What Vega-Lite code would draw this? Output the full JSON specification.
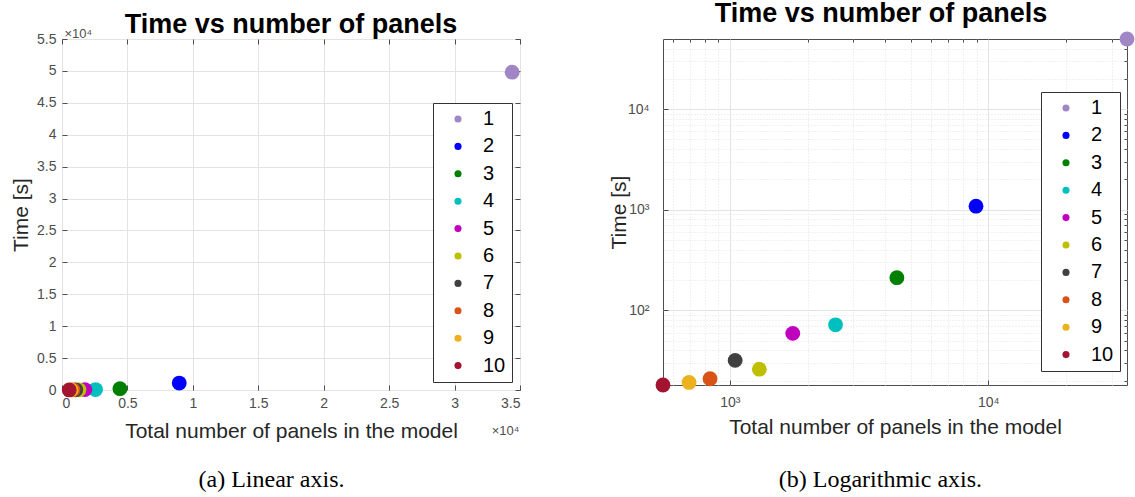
{
  "$schema": "https://vega.github.io/schema/vega-lite/v6.json",
  "background": "white",
  "padding": {"left": 10, "top": -1, "right": 0, "bottom": 0},
  "datasets": {
    "runs": [
      {"case": "1", "panels": 34400, "time": 49800},
      {"case": "2", "panels": 8960, "time": 1084},
      {"case": "3", "panels": 4427, "time": 211},
      {"case": "4", "panels": 2563, "time": 71.8},
      {"case": "5", "panels": 1751, "time": 59.0},
      {"case": "6", "panels": 1300, "time": 26.0},
      {"case": "7", "panels": 1048, "time": 31.8},
      {"case": "8", "panels": 838, "time": 20.9},
      {"case": "9", "panels": 695, "time": 19.2},
      {"case": "10", "panels": 551, "time": 18.1}
    ]
  },
  "config": {
    "font": "Liberation Sans",
    "view": {"stroke": "#4d4d4d", "strokeWidth": 1},
    "axis": {
      "domain": false,
      "labelFont": "Liberation Sans",
      "labelFontSize": 14,
      "labelColor": "#4d4d4d",
      "titleFont": "Liberation Sans",
      "titleFontSize": 21,
      "titleFontWeight": "normal",
      "titleColor": "#262626",
      "gridColor": "#e3e3e3",
      "gridWidth": 1,
      "tickColor": "#4d4d4d",
      "tickSize": -5,
      "labelPadding": 11
    },
    "legend": {
      "strokeColor": "#333333",
      "fillColor": "white",
      "padding": 6,
      "labelFont": "Liberation Sans",
      "labelFontSize": 20,
      "labelColor": "black",
      "symbolSize": 50,
      "symbolType": "circle",
      "symbolStrokeWidth": 0,
      "rowPadding": 7.4,
      "labelOffset": 15,
      "symbolOffset": 9
    },
    "title": {
      "font": "Liberation Sans",
      "fontSize": 27,
      "fontWeight": "bold",
      "color": "black"
    }
  },
  "resolve": {"scale": {"color": "independent"}, "legend": {"color": "independent"}},
  "spacing": 86,
  "hconcat": [
    {
      "title": {"text": "(a) Linear axis.", "orient": "bottom", "anchor": "middle", "font": "Liberation Serif", "fontSize": 24, "fontWeight": "normal", "color": "black", "offset": 26, "dx": 6},
      "resolve": {"scale": {"color": "independent"}, "legend": {"color": "independent"}},
      "vconcat": [
        {
          "width": 458,
          "height": 351,
          "title": {"text": "Time vs number of panels", "offset": -12},
          "data": {"name": "runs"},
          "resolve": {"axis": {"x": "independent", "y": "independent"}},
          "layer": [
            {
              "mark": {"type": "point", "filled": true, "size": 220, "opacity": 1},
              "encoding": {
                "x": {
                  "field": "panels", "type": "quantitative",
                  "scale": {"domain": [0, 35000], "nice": false, "zero": false},
                  "axis": {"orient": "bottom", "values": [0, 5000, 10000, 15000, 20000, 25000, 30000, 35000], "labelExpr": "format(datum.value/10000,'~g')", "title": "Total number of panels in the model", "grid": true, "titlePadding": 10}
                },
                "y": {
                  "field": "time", "type": "quantitative",
                  "scale": {"domain": [0, 55000], "nice": false, "zero": false},
                  "axis": {"orient": "left", "values": [0, 5000, 10000, 15000, 20000, 25000, 30000, 35000, 40000, 45000, 50000, 55000], "labelExpr": "format(datum.value/10000,'~g')", "title": "Time [s]", "grid": true, "titlePadding": 5}
                },
                "color": {
                  "field": "case", "type": "nominal",
                  "scale": {"domain": ["1","2","3","4","5","6","7","8","9","10"], "range": ["#A086C4","#0000FF","#008000","#00BFBF","#BF00BF","#BFBF00","#404040","#D95319","#EDB120","#A2142F"]},
                  "legend": {"orient": "none", "legendX": 371, "legendY": 64, "title": null}
                }
              }
            },
            {
              "mark": {"type": "point", "opacity": 0},
              "encoding": {
                "x": {
                  "field": "panels", "type": "quantitative",
                  "axis": {"orient": "top", "values": [0, 5000, 10000, 15000, 20000, 25000, 30000, 35000], "labels": false, "grid": false, "title": "×10⁴", "titleX": 2, "titleY": -2, "titleAlign": "left", "titleBaseline": "alphabetic", "titleFontSize": 13, "titleColor": "#4d4d4d"}
                },
                "y": {
                  "field": "time", "type": "quantitative",
                  "axis": {"orient": "right", "values": [0, 5000, 10000, 15000, 20000, 25000, 30000, 35000, 40000, 45000, 50000, 55000], "labels": false, "grid": false, "title": "×10⁴", "titleAngle": 0, "titleX": -15, "titleY": 391, "titleAlign": "center", "titleBaseline": "middle", "titleFontSize": 13, "titleColor": "#4d4d4d"}
                }
              }
            }
          ]
        }
      ]
    },
    {
      "title": {"text": "(b) Logarithmic axis.", "orient": "bottom", "anchor": "middle", "font": "Liberation Serif", "fontSize": 24, "fontWeight": "normal", "color": "black", "offset": 30, "dx": 9},
      "resolve": {"scale": {"color": "independent"}, "legend": {"color": "independent"}},
      "vconcat": [
        {
          "width": 464,
          "height": 346,
          "title": {"text": "Time vs number of panels", "offset": 4, "dx": -14},
          "data": {"name": "runs"},
          "resolve": {"axis": {"x": "independent", "y": "independent"}},
          "layer": [
            {
              "mark": {"type": "point", "filled": true, "size": 220, "opacity": 1},
              "encoding": {
                "x": {
                  "field": "panels", "type": "quantitative",
                  "scale": {"type": "log", "domain": [551, 34400], "nice": false},
                  "axis": {"orient": "bottom", "values": [1000, 10000], "labelExpr": "datum.value == 1000 ? '10³' : '10⁴'", "title": "Total number of panels in the model", "grid": true, "labelPadding": 15, "titlePadding": 7}
                },
                "y": {
                  "field": "time", "type": "quantitative",
                  "scale": {"type": "log", "domain": [18.1, 49800], "nice": false},
                  "axis": {"orient": "left", "values": [100, 1000, 10000], "labelExpr": "datum.value == 100 ? '10²' : datum.value == 1000 ? '10³' : '10⁴'", "title": "Time [s]", "grid": true, "labelPadding": 19, "titlePadding": -2}
                },
                "color": {
                  "field": "case", "type": "nominal",
                  "scale": {"domain": ["1","2","3","4","5","6","7","8","9","10"], "range": ["#A086C4","#0000FF","#008000","#00BFBF","#BF00BF","#BFBF00","#404040","#D95319","#EDB120","#A2142F"]},
                  "legend": {"orient": "none", "legendX": 378, "legendY": 53, "title": null}
                }
              }
            },
            {
              "mark": {"type": "point", "opacity": 0},
              "encoding": {
                "x": {
                  "field": "panels", "type": "quantitative",
                  "axis": {"orient": "top", "values": [600, 700, 800, 900, 2000, 3000, 4000, 5000, 6000, 7000, 8000, 9000, 20000, 30000], "labels": false, "grid": true, "gridDash": [1, 2], "tickSize": -3, "title": null}
                },
                "y": {
                  "field": "time", "type": "quantitative",
                  "axis": {"orient": "right", "values": [20, 30, 40, 50, 60, 70, 80, 90, 200, 300, 400, 500, 600, 700, 800, 900, 2000, 3000, 4000, 5000, 6000, 7000, 8000, 9000, 20000, 30000, 40000], "labels": false, "grid": true, "gridDash": [1, 2], "tickSize": -3, "title": null}
                }
              }
            }
          ]
        }
      ]
    }
  ]
}
